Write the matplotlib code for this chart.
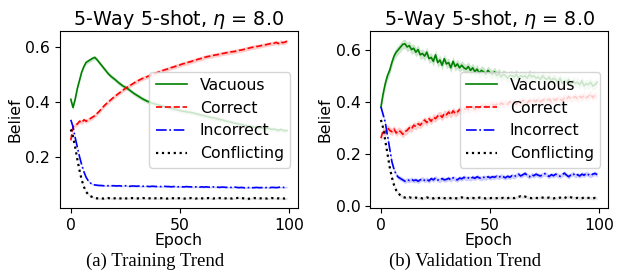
import numpy as np
import matplotlib
matplotlib.use("Agg")
import matplotlib.pyplot as plt

epochs = np.arange(100)

# ---- training trend (left) ----
train_vacuous = [
    0.41, 0.38, 0.41, 0.45, 0.48, 0.51, 0.53, 0.545, 0.55, 0.555,
    0.56, 0.563, 0.555, 0.545, 0.535, 0.525, 0.515, 0.505, 0.497, 0.49,
    0.484, 0.477, 0.470, 0.464, 0.458, 0.454, 0.449, 0.443, 0.437, 0.431,
    0.426, 0.421, 0.416, 0.411, 0.407, 0.403, 0.40, 0.397, 0.394, 0.392,
    0.39, 0.388, 0.385, 0.383, 0.381, 0.379, 0.377, 0.375, 0.373, 0.371,
    0.369, 0.367, 0.366, 0.364, 0.363, 0.362, 0.36, 0.358, 0.356, 0.354,
    0.352, 0.35, 0.348, 0.346, 0.344, 0.343, 0.341, 0.339, 0.337, 0.335,
    0.333, 0.331, 0.329, 0.327, 0.325, 0.323, 0.321, 0.319, 0.318, 0.316,
    0.314, 0.312, 0.311, 0.309, 0.308, 0.307, 0.306, 0.305, 0.304, 0.303,
    0.305, 0.302, 0.30, 0.301, 0.299, 0.296, 0.30, 0.297, 0.295, 0.296,
]
train_correct = [
    0.26, 0.31, 0.315, 0.32, 0.33, 0.325, 0.335, 0.33, 0.335, 0.34,
    0.345, 0.35, 0.358, 0.366, 0.375, 0.384, 0.392, 0.399, 0.406, 0.413,
    0.42, 0.426, 0.432, 0.438, 0.444, 0.45, 0.455, 0.46, 0.465, 0.47,
    0.475, 0.479, 0.483, 0.487, 0.49, 0.493, 0.496, 0.499, 0.503, 0.506,
    0.509, 0.512, 0.515, 0.518, 0.52, 0.523, 0.526, 0.528, 0.531, 0.533,
    0.536, 0.539, 0.541, 0.543, 0.546, 0.548, 0.551, 0.553, 0.556, 0.558,
    0.56, 0.563, 0.565, 0.567, 0.568, 0.57, 0.572, 0.573, 0.575, 0.577,
    0.578, 0.58, 0.581, 0.583, 0.584, 0.585, 0.587, 0.589, 0.59, 0.592,
    0.594, 0.596, 0.598, 0.60, 0.601, 0.603, 0.604, 0.606, 0.608, 0.609,
    0.611, 0.613, 0.614, 0.615, 0.618, 0.614, 0.62, 0.617, 0.619, 0.622,
]
train_incorrect = [
    0.335, 0.31, 0.27, 0.235, 0.20, 0.17, 0.145, 0.125, 0.112, 0.104,
    0.099, 0.097, 0.096, 0.095, 0.095, 0.094, 0.094, 0.094, 0.095, 0.094,
    0.094, 0.093, 0.094, 0.093, 0.093, 0.094, 0.093, 0.092, 0.093, 0.093,
    0.092, 0.093, 0.092, 0.092, 0.093, 0.092, 0.091, 0.092, 0.092, 0.091,
    0.092, 0.091, 0.091, 0.092, 0.091, 0.091, 0.090, 0.091, 0.091, 0.090,
    0.091, 0.090, 0.090, 0.091, 0.090, 0.090, 0.089, 0.090, 0.090, 0.089,
    0.090, 0.089, 0.090, 0.089, 0.089, 0.090, 0.089, 0.089, 0.088, 0.089,
    0.089, 0.088, 0.089, 0.088, 0.088, 0.089, 0.088, 0.087, 0.088, 0.087,
    0.086, 0.087, 0.088, 0.087, 0.087, 0.088, 0.087, 0.087, 0.088, 0.087,
    0.088, 0.087, 0.088, 0.088, 0.087, 0.088, 0.089, 0.088, 0.088, 0.089,
]
train_conflicting = [
    0.30, 0.275, 0.235, 0.19, 0.15, 0.115, 0.09, 0.072, 0.062, 0.056,
    0.052, 0.049, 0.048, 0.047, 0.048, 0.047, 0.048, 0.049, 0.048, 0.047,
    0.048, 0.049, 0.047, 0.048, 0.050, 0.048, 0.047, 0.048, 0.049, 0.048,
    0.047, 0.048, 0.048, 0.049, 0.048, 0.047, 0.048, 0.049, 0.048, 0.048,
    0.047, 0.048, 0.049, 0.048, 0.047, 0.048, 0.049, 0.048, 0.047, 0.048,
    0.049, 0.048, 0.047, 0.048, 0.048, 0.049, 0.048, 0.047, 0.048, 0.049,
    0.048, 0.047, 0.048, 0.049, 0.048, 0.047, 0.048, 0.048, 0.049, 0.048,
    0.047, 0.048, 0.049, 0.048, 0.047, 0.048, 0.049, 0.050, 0.049, 0.048,
    0.047, 0.046, 0.047, 0.048, 0.049, 0.048, 0.047, 0.048, 0.049, 0.048,
    0.047, 0.048, 0.049, 0.048, 0.047, 0.048, 0.047, 0.048, 0.047, 0.048,
]

# ---- validation trend (right) ----
val_vacuous = [
    0.38, 0.43, 0.47, 0.50, 0.52, 0.55, 0.575, 0.59, 0.60, 0.61,
    0.62, 0.622, 0.61, 0.615, 0.60, 0.605, 0.59, 0.60, 0.58, 0.585,
    0.575, 0.59, 0.565, 0.57, 0.555, 0.58, 0.55, 0.56, 0.54, 0.565,
    0.545, 0.55, 0.53, 0.555, 0.535, 0.545, 0.53, 0.54, 0.53, 0.525,
    0.535, 0.52, 0.53, 0.515, 0.525, 0.51, 0.52, 0.515, 0.505, 0.52,
    0.51, 0.505, 0.515, 0.50, 0.51, 0.495, 0.505, 0.50, 0.49, 0.50,
    0.50, 0.495, 0.505, 0.49, 0.50, 0.495, 0.50, 0.49, 0.505, 0.495,
    0.50, 0.49, 0.495, 0.485, 0.50, 0.49, 0.485, 0.495, 0.48, 0.49,
    0.485, 0.475, 0.49, 0.47, 0.48, 0.475, 0.485, 0.465, 0.48, 0.47,
    0.475, 0.465, 0.48, 0.46, 0.47, 0.465, 0.475, 0.46, 0.465, 0.475,
]
val_correct = [
    0.26, 0.29, 0.28, 0.30, 0.29, 0.285, 0.295, 0.28, 0.29, 0.285,
    0.275, 0.285, 0.29, 0.30, 0.295, 0.31, 0.305, 0.315, 0.31, 0.32,
    0.33, 0.32, 0.335, 0.325, 0.34, 0.335, 0.345, 0.35, 0.34, 0.355,
    0.35, 0.36, 0.35, 0.365, 0.355, 0.36, 0.37, 0.365, 0.37, 0.375,
    0.37, 0.375, 0.38, 0.37, 0.38, 0.375, 0.385, 0.38, 0.385, 0.38,
    0.385, 0.39, 0.385, 0.39, 0.385, 0.395, 0.39, 0.395, 0.39, 0.40,
    0.395, 0.40, 0.39, 0.40, 0.395, 0.405, 0.40, 0.395, 0.405, 0.40,
    0.405, 0.40, 0.41, 0.40, 0.405, 0.41, 0.405, 0.41, 0.40, 0.41,
    0.405, 0.415, 0.41, 0.405, 0.415, 0.41, 0.42, 0.41, 0.415, 0.42,
    0.41, 0.42, 0.415, 0.425, 0.415, 0.42, 0.43, 0.415, 0.425, 0.42,
]
val_incorrect = [
    0.38, 0.35, 0.32, 0.27, 0.22, 0.17, 0.14, 0.12, 0.11, 0.105,
    0.10, 0.095, 0.10, 0.098, 0.102, 0.097, 0.10, 0.095, 0.10, 0.104,
    0.098, 0.102, 0.096, 0.105, 0.10, 0.108, 0.10, 0.098, 0.105, 0.10,
    0.102, 0.106, 0.10, 0.108, 0.103, 0.10, 0.107, 0.104, 0.11, 0.105,
    0.108, 0.104, 0.11, 0.106, 0.112, 0.108, 0.105, 0.11, 0.107, 0.112,
    0.108, 0.112, 0.11, 0.114, 0.11, 0.115, 0.112, 0.108, 0.114, 0.11,
    0.116, 0.112, 0.118, 0.122, 0.115, 0.12, 0.125, 0.117, 0.112, 0.12,
    0.116, 0.122, 0.118, 0.115, 0.12, 0.124, 0.118, 0.113, 0.12, 0.116,
    0.122, 0.118, 0.114, 0.12, 0.126, 0.118, 0.112, 0.12, 0.124, 0.116,
    0.12, 0.115, 0.122, 0.118, 0.125, 0.12, 0.117, 0.122, 0.125, 0.12,
]
val_conflicting = [
    0.33, 0.30, 0.25, 0.20, 0.15, 0.11, 0.08, 0.06, 0.048, 0.04,
    0.035, 0.032, 0.030, 0.033, 0.031, 0.030, 0.032, 0.030, 0.031, 0.029,
    0.031, 0.033, 0.030, 0.031, 0.029, 0.032, 0.030, 0.031, 0.033, 0.030,
    0.029, 0.031, 0.030, 0.032, 0.030, 0.029, 0.031, 0.033, 0.030, 0.031,
    0.030, 0.032, 0.031, 0.029, 0.030, 0.032, 0.031, 0.030, 0.029, 0.031,
    0.030, 0.031, 0.029, 0.030, 0.032, 0.030, 0.031, 0.029, 0.030, 0.032,
    0.031, 0.030, 0.033, 0.035, 0.037, 0.034, 0.036, 0.033, 0.031, 0.030,
    0.032, 0.031, 0.030, 0.033, 0.032, 0.030, 0.031, 0.032, 0.030, 0.029,
    0.031, 0.030, 0.032, 0.029, 0.030, 0.034, 0.036, 0.033, 0.031, 0.030,
    0.031, 0.029, 0.030, 0.032, 0.030, 0.031, 0.030, 0.029, 0.031, 0.030,
]

# band half-widths (std) per series
train_std = {"Vacuous": 0.008, "Correct": 0.008, "Incorrect": 0.003, "Conflicting": 0.004}
val_std = {"Vacuous": 0.018, "Correct": 0.014, "Incorrect": 0.009, "Conflicting": 0.006}

labels = ["Vacuous", "Correct", "Incorrect", "Conflicting"]
styles = {"Vacuous": ("green", "-"), "Correct": ("red", "--"),
          "Incorrect": ("blue", "-."), "Conflicting": ("black", ":")}

FS = 11.3


def draw_panel(ax, series, stds, yticks):
    for name, vals in zip(labels, series):
        vals = np.array(vals)
        color, ls = styles[name]
        lw = 1.6 if ls == ":" else 1.2
        ax.plot(epochs, vals, color=color, linestyle=ls, linewidth=lw, label=name)
        ax.fill_between(epochs, vals - stds[name], vals + stds[name],
                        color=color if name != "Conflicting" else "gray", alpha=0.2, lw=0)
    ax.set_title(r"5-Way 5-shot, $\eta$ = 8.0", fontsize=13.8, pad=3.5)
    ax.set_xlabel("Epoch", fontsize=FS, labelpad=0)
    ax.set_ylabel("Belief", fontsize=FS, labelpad=2)
    ax.set_xticks([0, 50, 100])
    ax.set_yticks(yticks)
    ax.tick_params(labelsize=FS)
    ax.legend(loc="center right", fontsize=FS, handlelength=2.0)


fig = plt.figure(figsize=(6.21, 2.79), dpi=100)
ax1 = fig.add_axes([0.0966, 0.2545, 0.383, 0.634])
ax2 = fig.add_axes([0.596, 0.2545, 0.383, 0.634])

draw_panel(ax1, [train_vacuous, train_correct, train_incorrect, train_conflicting],
           train_std, [0.2, 0.4, 0.6])
draw_panel(ax2, [val_vacuous, val_correct, val_incorrect, val_conflicting],
           val_std, [0.0, 0.2, 0.4, 0.6])

fig.text(0.25, 0.065, "(a) Training Trend", ha="center", va="center",
         fontsize=13.5, family="Liberation Serif")
fig.text(0.749, 0.065, "(b) Validation Trend", ha="center", va="center",
         fontsize=13.5, family="Liberation Serif")

plt.savefig("out.png", dpi=100)
plt.close()
